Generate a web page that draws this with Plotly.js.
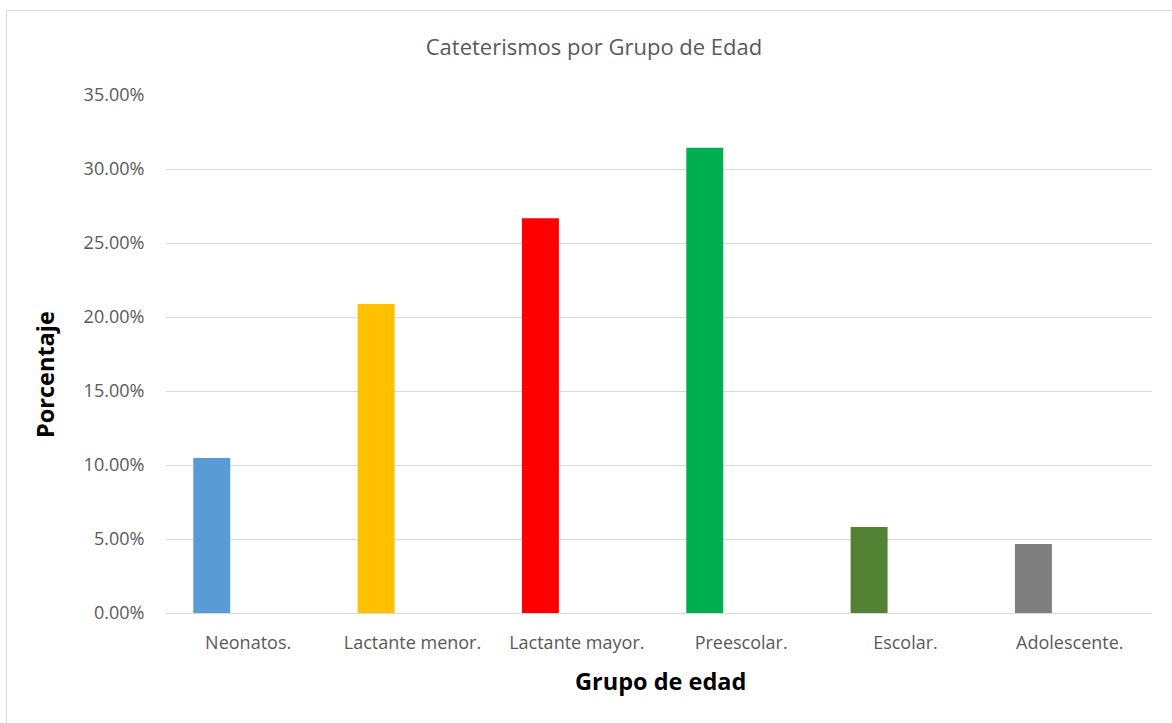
<!DOCTYPE html>
<html>
<head>
<meta charset="utf-8">
<script src="https://cdn.plot.ly/plotly-3.0.1.min.js"></script>
<style>
html,body{margin:0;padding:0;background:#fff;}
#chart{width:1172px;height:723px;}
</style>
</head>
<body>
<div id="chart"></div>
<script>
const categories = ["Neonatos.", "Lactante menor.", "Lactante mayor.", "Preescolar.", "Escolar.", "Adolescente."];
const values = [0.1047, 0.2088, 0.2667, 0.3143, 0.0581, 0.0466];
const colors = ["#5B9BD5", "#FFC000", "#FF0000", "#00B050", "#548235", "#7F7F7F"];
const yTicks = [0, 0.05, 0.10, 0.15, 0.20, 0.25, 0.30, 0.35];
const titleText = "Cateterismos por Grupo de Edad";
const xTitle = "Grupo de edad";
const yTitle = "Porcentaje";

const FONT = "'Open Sans', 'Noto Sans', sans-serif";

const trace = {
  type: "bar",
  x: categories,
  y: values,
  marker: {color: colors, line: {width: 0}},
  width: 0.225,
  offset: -0.334,
  hoverinfo: "x+y"
};

const L = 166, R = 1152, T = 95, B = 613, W = 1172, H = 723;
const pw = R - L, ph = B - T;

const layout = {
  width: W, height: H,
  margin: {l: L, r: W - R, t: T, b: H - B, pad: 0},
  paper_bgcolor: "#fff",
  plot_bgcolor: "#fff",
  showlegend: false,
  font: {family: FONT, color: "#595959", size: 18},
  title: {
    text: titleText,
    font: {size: 22, color: "#595959", family: FONT},
    x: 594 / W, xanchor: "center", y: 1 - 47 / H, yanchor: "middle"
  },
  xaxis: {
    type: "category",
    showgrid: false,
    showline: true, linecolor: "#d9d9d9", linewidth: 1,
    ticks: "outside", ticklen: 13, tickcolor: "rgba(0,0,0,0)",
    tickfont: {size: 18, color: "#595959", family: FONT},
    fixedrange: true
  },
  yaxis: {
    range: [0, 0.35],
    tickvals: yTicks,
    tickformat: ".2%",
    showgrid: true, gridcolor: "#d9d9d9", gridwidth: 1,
    zeroline: false,
    showline: false,
    ticks: "outside", ticklen: 17, tickcolor: "rgba(0,0,0,0)",
    tickfont: {size: 18, color: "#595959", family: FONT},
    fixedrange: true
  },
  annotations: [
    {
      text: xTitle, xref: "paper", yref: "paper",
      x: (660 - L) / pw, y: (B - 681) / ph, xanchor: "center", yanchor: "middle",
      showarrow: false,
      font: {size: 23.5, color: "#000", family: FONT, weight: "bold"}
    },
    {
      text: yTitle, xref: "paper", yref: "paper", textangle: -90,
      x: (45 - L) / pw, y: (B - 375) / ph, xanchor: "center", yanchor: "middle",
      showarrow: false,
      font: {size: 23.5, color: "#000", family: FONT, weight: "bold"}
    }
  ],
  shapes: [{
    type: "rect", xref: "paper", yref: "paper",
    x0: (6.5 - L) / pw, x1: (1180 - L) / pw,
    y0: (B - 730) / ph, y1: (B - 10.5) / ph,
    line: {color: "#d9d9d9", width: 1}, fillcolor: "rgba(0,0,0,0)", layer: "below"
  }]
};

Plotly.newPlot("chart", [trace], layout, {displayModeBar: false, staticPlot: true});
</script>
</body>
</html>
